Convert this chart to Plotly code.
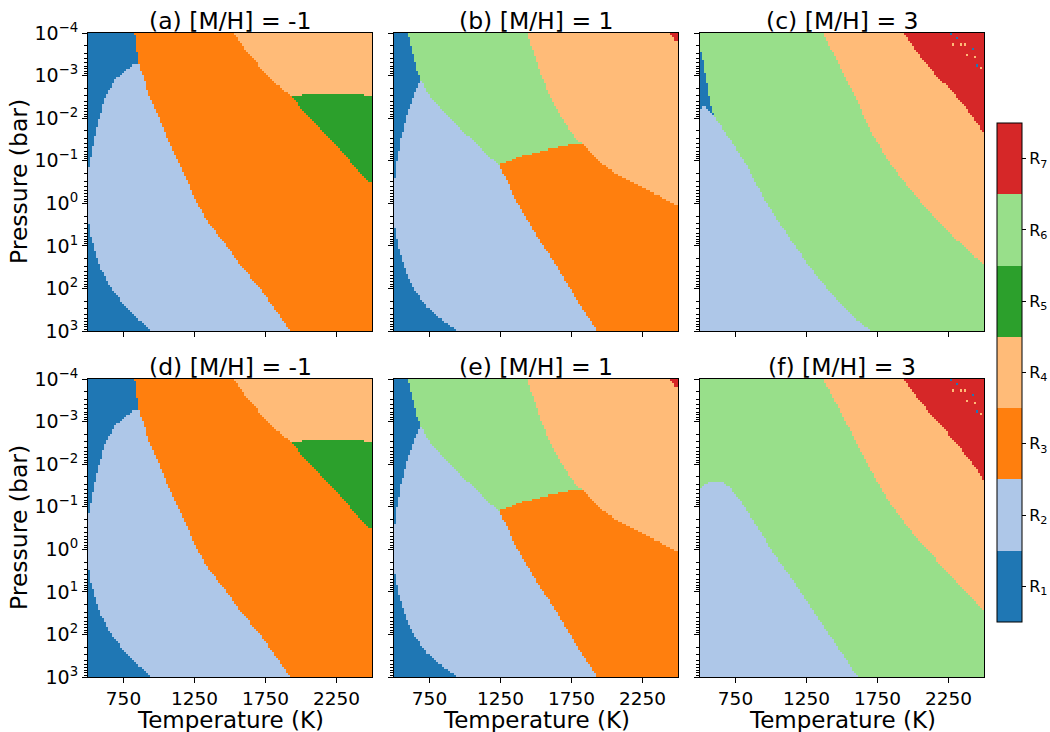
import numpy as np
import plotly.graph_objects as go

# ---------------- data ----------------
REGION_LABELS = ["R<sub>1</sub>", "R<sub>2</sub>", "R<sub>3</sub>", "R<sub>4</sub>",
                 "R<sub>5</sub>", "R<sub>6</sub>", "R<sub>7</sub>"]
REGION_COLORS = ["#1f77b4", "#aec7e8", "#ff7f0e", "#ffbb78", "#2ca02c", "#98df8a", "#d62728"]
PANEL_TITLES = ["(a) [M/H] = -1", "(b) [M/H] = 1", "(c) [M/H] = 3",
                "(d) [M/H] = -1", "(e) [M/H] = 1", "(f) [M/H] = 3"]
T_TICKS = [750, 1250, 1750, 2250]
LOGP_TICKS = [-4, -3, -2, -1, 0, 1, 2, 3]
T_RANGE = [500, 2500]
LOGP_RANGE = [-4, 3]

# Region outlines (temperature K, log10 pressure bar), panel [M/H] = -1
A_R1_T = [500, 829, 841, 860, 950, 500]
A_R1_LP = [-4, -4, -3.61, -3.26, 3, 3]
A_R2_T = [841, 860, 888, 931, 1001, 1065, 1135, 1206, 1265, 1359, 1477, 1582, 1712, 1818, 1924,
          947, 782, 665, 582, 540, 516, 500, 500, 516, 542, 578, 625, 688, 771, 815]
A_R2_LP = [-3.29, -3.26, -3.0, -2.51, -2.0, -1.49, -1.0, -0.47, 0.0, 0.5, 1.0, 1.49, 2.0, 2.5, 3.0,
           3.0, 2.5, 2.0, 1.49, 1.0, 0.7, 0.35, -0.7, -1.0, -1.49, -2.0, -2.51, -2.9, -3.14, -3.25]
A_R4_T = [1524, 1589, 1669, 1747, 1818, 1888, 1935, 2500, 2500]
A_R4_LP = [-4, -3.69, -3.37, -3.06, -2.82, -2.63, -2.51, -2.51, -4]
A_R5_T = [1935, 2006, 2006, 2440, 2440, 2500, 2500, 2476, 2418, 2359, 2276, 2194, 2100, 2006]
A_R5_LP = [-2.51, -2.51, -2.57, -2.57, -2.51, -2.51, -0.47, -0.49, -0.71, -0.94, -1.26, -1.57, -1.88, -2.2]

# panel [M/H] = 1
B_R4_T = [1437, 1484, 1531, 1589, 1648, 1719, 1789, 1825, 1907, 2001, 2095, 2189, 2284, 2378, 2500, 2500]
B_R4_LP = [-4, -3.53, -3.06, -2.59, -2.2, -1.81, -1.49, -1.41, -1.1, -0.83, -0.63, -0.47, -0.32, -0.16, 0.08, -4]
B_R6_T = [601, 1437, 1484, 1531, 1589, 1648, 1719, 1789, 1825, 1719, 1578, 1389, 1236, 1107, 989, 872,
          754, 688, 672, 648, 625]
B_R6_LP = [-4, -4, -3.53, -3.06, -2.59, -2.2, -1.81, -1.49, -1.41, -1.36, -1.26, -1.1, -0.9, -1.3, -1.69,
           -2.08, -2.51, -2.9, -3.02, -3.29, -3.61]
B_R1_T = [500, 601, 625, 648, 672, 688, 800, 954, 500]
B_R1_LP = [-4, -4, -3.61, -3.29, -3.02, -2.9, 0, 3, 3]
B_R2_T = [688, 754, 872, 989, 1107, 1236, 1295, 1354, 1495, 1648, 1789, 1931, 954, 836, 731, 648, 589,
          542, 514, 500, 500, 505, 519, 547, 589, 636]
B_R2_LP = [-2.9, -2.51, -2.08, -1.69, -1.3, -0.9, -0.55, -0.08, 0.7, 1.49, 2.27, 3.0, 3.0, 2.74, 2.43,
           2.04, 1.64, 1.17, 0.7, 0.5, -0.4, -0.55, -0.94, -1.49, -2.04, -2.51]
B_R7_T = [2444, 2500, 2500, 2470]
B_R7_LP = [-4, -4, -3.76, -3.85]

# panel (c) [M/H] = 3
C_R2_T = [500, 530, 560, 599, 658, 729, 835, 953, 1107, 1272, 1461, 1579, 1709, 500]
C_R2_LP = [-2.23, -2.3, -2.2, -2.04, -1.77, -1.41, -0.86, -0.08, 0.7, 1.49, 2.27, 2.66, 3.0, 3.0]
C_R1_T = [500, 528, 552, 570, 599, 560, 530, 500]
C_R1_LP = [-3.69, -3.22, -2.75, -2.36, -2.04, -2.2, -2.3, -2.23]
C_R4_T = [1366, 1485, 1603, 1709, 1839, 1980, 2146, 2311, 2500, 2500]
C_R4_LP = [-4, -3.22, -2.43, -1.65, -0.94, -0.32, 0.31, 0.86, 1.45, -4]
C_R7_T = [1933, 2051, 2169, 2287, 2382, 2452, 2500, 2500]
C_R7_LP = [-4, -3.45, -2.98, -2.59, -2.2, -1.88, -1.65, -4]

# panel (f) [M/H] = 3
F_R2_T = [500, 564, 646, 705, 776, 894, 1012, 1130, 1248, 1366, 1485, 1603, 1612, 500]
F_R2_LP = [-1.43, -1.59, -1.61, -1.47, -1.19, -0.57, 0.06, 0.61, 1.2, 1.79, 2.37, 2.96, 3.0, 3.0]
F_R4_T = [1366, 1485, 1603, 1721, 1839, 1980, 2146, 2311, 2500, 2500]
F_R4_LP = [-4, -3.27, -2.49, -1.74, -1.08, -0.45, 0.18, 0.81, 1.45, -4]
F_R7_T = [1933, 2051, 2169, 2287, 2382, 2452, 2500, 2500]
F_R7_LP = [-4, -3.47, -3.0, -2.57, -2.17, -1.86, -1.62, -4]

# isolated speckles inside the R7 region of the [M/H] = 3 panels
SPECK_T = [2264, 2311, 2287, 2335, 2370, 2417, 2382, 2441, 2453, 2476]
SPECK_LP = [-3.96, -3.88, -3.73, -3.73, -3.73, -3.61, -3.49, -3.41, -3.26, -3.18]
SPECK_R = [1, 1, 4, 4, 4, 1, 4, 4, 1, 4]

# ---------------- grid construction ----------------
NT, NP = 142, 142
t_edges = np.linspace(T_RANGE[0], T_RANGE[1], NT + 1)
lp_edges = np.linspace(LOGP_RANGE[0], LOGP_RANGE[1], NP + 1)
t_c = 0.5 * (t_edges[:-1] + t_edges[1:])
lp_c = 0.5 * (lp_edges[:-1] + lp_edges[1:])
TT, LL = np.meshgrid(t_c, lp_c)


def inside(vx, vy):
    vx = np.asarray(vx, float)
    vy = np.asarray(vy, float)
    res = np.zeros(TT.shape, bool)
    n = len(vx)
    j = n - 1
    for i in range(n):
        xi, yi, xj, yj = vx[i], vy[i], vx[j], vy[j]
        if yi != yj:
            cond = ((yi > LL) != (yj > LL)) & (TT < (xj - xi) * (LL - yi) / (yj - yi) + xi)
            res ^= cond
        j = i
    return res


def paint(background, layers, speck=False):
    z = np.full(TT.shape, float(background))
    for rid, vx, vy in layers:
        z[inside(vx, vy)] = rid
    if speck:
        for t, lp, r in zip(SPECK_T, SPECK_LP, SPECK_R):
            ix = int(np.argmin(np.abs(t_c - t)))
            iy = int(np.argmin(np.abs(lp_c - lp)))
            z[iy, ix] = r
    return z


z_a = paint(3, [(1, A_R1_T, A_R1_LP), (2, A_R2_T, A_R2_LP), (4, A_R4_T, A_R4_LP), (5, A_R5_T, A_R5_LP)])
z_b = paint(3, [(4, B_R4_T, B_R4_LP), (6, B_R6_T, B_R6_LP), (1, B_R1_T, B_R1_LP),
                (2, B_R2_T, B_R2_LP), (7, B_R7_T, B_R7_LP)])
z_c = paint(6, [(2, C_R2_T, C_R2_LP), (1, C_R1_T, C_R1_LP), (4, C_R4_T, C_R4_LP),
                (7, C_R7_T, C_R7_LP)], speck=True)
z_f = paint(6, [(2, F_R2_T, F_R2_LP), (4, F_R4_T, F_R4_LP), (7, F_R7_T, F_R7_LP)], speck=True)
Z = [z_a, z_b, z_c, z_a, z_b, z_f]

colorscale = []
for i, c in enumerate(REGION_COLORS):
    colorscale += [[i / 7, c], [(i + 1) / 7, c]]

# ---------------- figure ----------------
W, H = 1050, 732
LEFTS = [88, 394, 700]
TOPS = [33, 379]
PW, PH = 284, 298
FONT = "DejaVu Sans"

fig = go.Figure()
layout = dict(width=W, height=H, margin=dict(l=0, r=0, t=0, b=0, pad=0, autoexpand=False),
              paper_bgcolor="white", plot_bgcolor="white",
              font=dict(family=FONT, color="black"), showlegend=False)
annotations = []
minor_vals = [n + np.log10(k) for n in range(-4, 3) for k in range(2, 10)]

for idx in range(6):
    row, col = divmod(idx, 3)
    sfx = "" if idx == 0 else str(idx + 1)
    l, t = LEFTS[col], TOPS[row]
    xd = [l / W, (l + PW) / W]
    yd = [1 - (t + PH) / H, 1 - t / H]
    fig.add_trace(go.Heatmap(
        x=t_c, y=lp_c, z=Z[idx], xaxis="x" + sfx, yaxis="y" + sfx,
        colorscale=colorscale, zmin=0.5, zmax=7.5, zsmooth=False,
        hoverinfo="skip", showscale=(idx == 0),
        colorbar=dict(tickvals=list(range(1, 8)), ticktext=REGION_LABELS,
                      thickness=25, thicknessmode="pixels", len=499, lenmode="pixels",
                      x=997 / W, xanchor="left", y=1 - 372.5 / H, yanchor="middle",
                      xpad=0, ypad=0, outlinewidth=1, outlinecolor="black",
                      ticks="outside", ticklen=4, tickcolor="black",
                      tickfont=dict(size=16, family=FONT))))
    layout["xaxis" + sfx] = dict(domain=xd, anchor="y" + sfx, range=T_RANGE,
                                 tickvals=T_TICKS, ticktext=[str(v) for v in T_TICKS],
                                 ticks="outside", ticklen=5, tickcolor="black",
                                 showticklabels=(row == 1), tickfont=dict(size=18.5),
                                 showline=True, mirror=True, linecolor="black", linewidth=1,
                                 showgrid=False, zeroline=False)
    layout["yaxis" + sfx] = dict(domain=yd, anchor="x" + sfx, range=[LOGP_RANGE[1], LOGP_RANGE[0]],
                                 tickvals=LOGP_TICKS,
                                 ticktext=["10<sup>%s</sup>" % (str(v).replace("-", "\u2212")) for v in LOGP_TICKS],
                                 ticks="outside", ticklen=5, tickcolor="black",
                                 minor=dict(tickvals=minor_vals, ticks="outside", ticklen=3, tickcolor="black"),
                                 showticklabels=(col == 0), tickfont=dict(size=19),
                                 showline=True, mirror=True, linecolor="black", linewidth=1,
                                 showgrid=False, zeroline=False)
    annotations.append(dict(text=PANEL_TITLES[idx], xref="paper", yref="paper",
                            x=(l + PW / 2) / W, y=1 - (t - 12) / H, xanchor="center", yanchor="middle",
                            showarrow=False, font=dict(size=23.5, family=FONT)))
    if col == 0:
        annotations.append(dict(text="Pressure (bar)", xref="paper", yref="paper",
                                x=19 / W, y=1 - (t + PH / 2) / H, textangle=-90,
                                xanchor="center", yanchor="middle", showarrow=False,
                                font=dict(size=23.5, family=FONT)))
    if row == 1:
        annotations.append(dict(text="Temperature (K)", xref="paper", yref="paper",
                                x=(l + PW / 2) / W, y=1 - 720 / H,
                                xanchor="center", yanchor="middle", showarrow=False,
                                font=dict(size=23, family=FONT)))

layout["annotations"] = annotations
fig.update_layout(**layout)
fig.write_html("out.html")
